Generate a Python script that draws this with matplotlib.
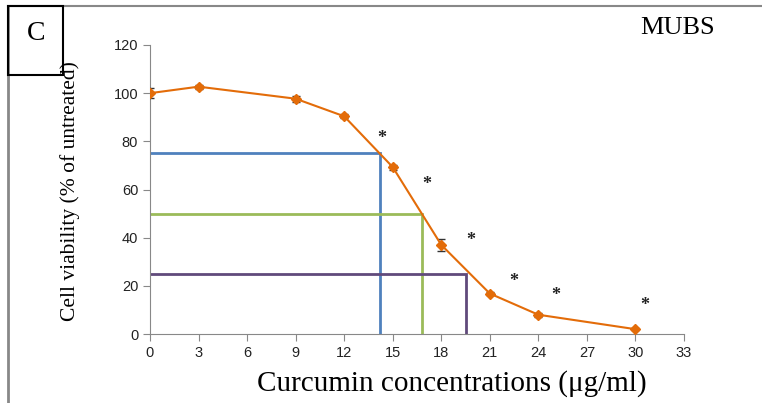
import matplotlib.pyplot as plt
from matplotlib.patches import Rectangle
from matplotlib.lines import Line2D

# data
conc = [0, 3, 9, 12, 15, 18, 21, 24, 30]
viability = [100, 102.7, 97.7, 90.4, 69.3, 37, 16.8, 8, 2]
err = [2.2, 0.8, 1.2, 0.8, 1.0, 2.5, 0.8, 0.8, 0.5]

star_x = [14.3, 17.1, 19.8, 22.5, 25.1, 30.6]
star_y = [81, 62, 39, 22, 16, 12]

# IC75 / IC50 / IC25 guides
ic_x = [14.2, 16.8, 19.5]
ic_y = [75, 50, 25]
ic_colors = ["#4f81bd", "#9bbb59", "#604a7b"]

orange = "#e36c09"
serif = "Liberation Serif"
sans = "Liberation Sans"

fig = plt.figure(figsize=(7.62, 4.03), dpi=100)
ax = fig.add_axes([150 / 762, 1 - 334 / 403, 534 / 762, 289 / 403])

for xv, yv, c in zip(ic_x, ic_y, ic_colors):
    ax.plot([0, xv, xv], [yv, yv, 0], color=c, lw=2, solid_joinstyle="miter", zorder=2)

ax.errorbar(conc, viability, yerr=err, color=orange, lw=1.5, marker="D", ms=5,
            ecolor="#333333", elinewidth=1, capsize=3, zorder=3)

for xv, yv in zip(star_x, star_y):
    ax.text(xv, yv, "*", ha="center", va="center", fontsize=13, fontweight="bold",
            family=serif, color="#222222")

ax.set_xlim(0, 33)
ax.set_ylim(0, 120)
ax.set_xticks(range(0, 34, 3))
ax.set_yticks(range(0, 121, 20))
for s in ["top", "right"]:
    ax.spines[s].set_visible(False)
for s in ["left", "bottom"]:
    ax.spines[s].set_color("#888888")
ax.tick_params(colors="#888888", labelcolor="#222222", labelsize=10.5, length=5)
for lab in ax.get_xticklabels() + ax.get_yticklabels():
    lab.set_family(sans)

fig.text(452 / 762, 1 - 384 / 403, "Curcumin concentrations (μg/ml)", family=serif,
         fontsize=21, ha="center", va="center")
fig.text(70 / 762, 1 - 191 / 403, "Cell viability (% of untreated)", family=serif,
         fontsize=15.5, rotation=90, ha="center", va="center")

# outer frame pieces, panel letter and cell line name
fig.add_artist(Line2D([8 / 762, 1], [1 - 6 / 403] * 2, color="#888888", lw=1.5))
fig.add_artist(Line2D([8 / 762] * 2, [0, 1 - 6 / 403], color="#888888", lw=2))
fig.add_artist(Rectangle((8 / 762, 1 - 75 / 403), 55 / 762, 69 / 403, fill=False,
                         ec="black", lw=1.5, transform=fig.transFigure, zorder=5))
fig.text(36 / 762, 1 - 33 / 403, "C", family=serif, fontsize=20, ha="center", va="center")
fig.text(678 / 762, 1 - 28 / 403, "MUBS", family=serif, fontsize=19, ha="center", va="center")

fig.savefig("out.png", dpi=100)
